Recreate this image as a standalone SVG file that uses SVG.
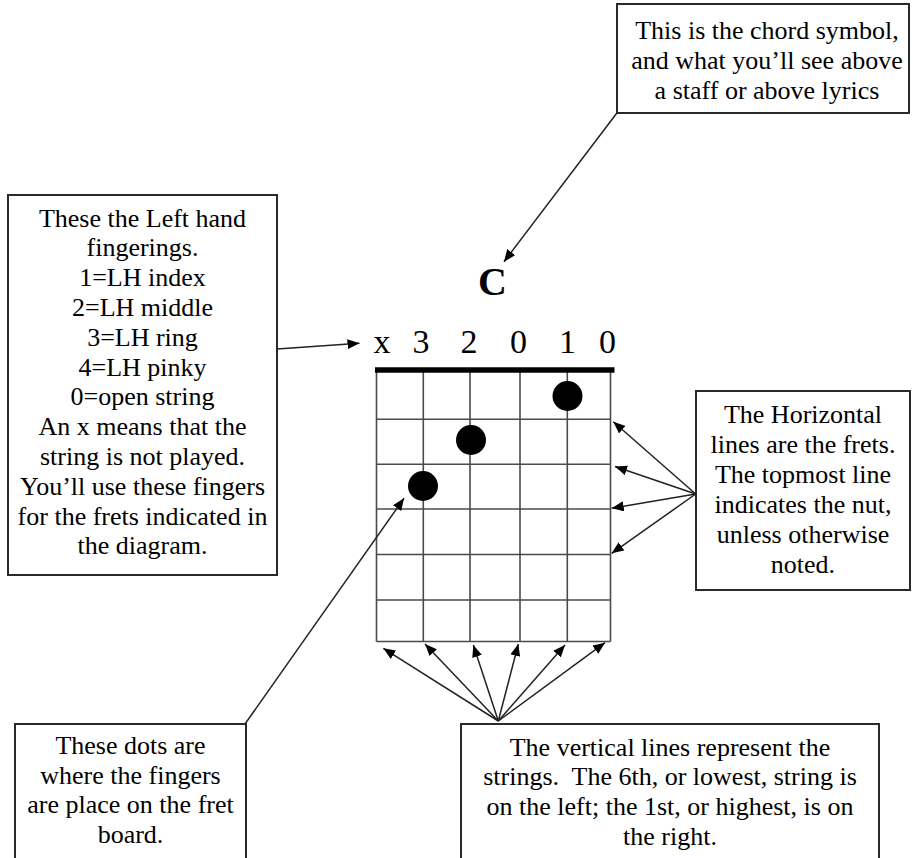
<svg xmlns="http://www.w3.org/2000/svg" width="913" height="858" viewBox="0 0 913 858">
<style>
.box{fill:#fff;stroke:#2a2a2a;stroke-width:2}
.t{font-family:"Liberation Serif","Times New Roman",serif;font-size:26px;fill:#000;text-anchor:middle}
.d{font-family:"Liberation Serif","Times New Roman",serif;font-size:34px;fill:#000;text-anchor:middle}
.g{stroke:#4a4a4a;stroke-width:1.6;fill:none}
.c{stroke:#222;stroke-width:1.5;fill:none;marker-end:url(#ah)}
</style>
<defs>
<marker id="ah" markerUnits="userSpaceOnUse" viewBox="0 0 12 10" refX="12" refY="5" markerWidth="12" markerHeight="10" orient="auto">
<path d="M0,0 L12,5 L0,10 z" fill="#000"/>
</marker>
</defs>
<rect width="913" height="858" fill="#fff"/>

<g id="chord-symbol-note">
<rect class="box" x="617" y="4" width="292" height="109"/>
<text class="t" x="767" y="39">This is the chord symbol,</text>
<text class="t" x="767" y="69">and what you’ll see above</text>
<text class="t" x="767" y="99">a staff or above lyrics</text>
</g>

<g id="fingering-note">
<rect class="box" x="8" y="195" width="269" height="380"/>
<text class="t" x="142.5" y="226.5">These the Left hand</text>
<text class="t" x="142.5" y="256.3">fingerings.</text>
<text class="t" x="142.5" y="286.1">1=LH index</text>
<text class="t" x="142.5" y="315.9">2=LH middle</text>
<text class="t" x="142.5" y="345.7">3=LH ring</text>
<text class="t" x="142.5" y="375.5">4=LH pinky</text>
<text class="t" x="142.5" y="405.3">0=open string</text>
<text class="t" x="142.5" y="435.1">An x means that the</text>
<text class="t" x="142.5" y="464.9">string is not played.</text>
<text class="t" x="142.5" y="494.7">You’ll use these fingers</text>
<text class="t" x="142.5" y="524.5">for the frets indicated in</text>
<text class="t" x="142.5" y="554.3">the diagram.</text>
</g>

<g id="chord-diagram">
<text x="492.5" y="295" font-family="Liberation Serif,'Times New Roman',serif" font-size="40" font-weight="bold" text-anchor="middle" fill="#000">C</text>
<text class="d" x="382" y="353">x</text>
<text class="d" x="421" y="353">3</text>
<text class="d" x="469" y="353">2</text>
<text class="d" x="518.5" y="353">0</text>
<text class="d" x="567.5" y="353">1</text>
<text class="d" x="607.5" y="353">0</text>
<g class="g">
<line x1="376.5" y1="370" x2="376.5" y2="641.5"/>
<line x1="423.3" y1="370" x2="423.3" y2="641.5"/>
<line x1="470" y1="370" x2="470" y2="641.5"/>
<line x1="520" y1="370" x2="520" y2="641.5"/>
<line x1="567.3" y1="370" x2="567.3" y2="641.5"/>
<line x1="610.5" y1="370" x2="610.5" y2="641.5"/>
<line x1="376.5" y1="419.3" x2="610.5" y2="419.3"/>
<line x1="376.5" y1="464.3" x2="610.5" y2="464.3"/>
<line x1="376.5" y1="509" x2="610.5" y2="509"/>
<line x1="376.5" y1="554.5" x2="610.5" y2="554.5"/>
<line x1="376.5" y1="600" x2="610.5" y2="600"/>
<line x1="376.5" y1="641.5" x2="610.5" y2="641.5"/>
</g>
<line x1="375" y1="370" x2="614.5" y2="370" stroke="#000" stroke-width="5.5"/>
<circle cx="567.5" cy="396" r="15" fill="#000"/>
<circle cx="471" cy="440" r="15" fill="#000"/>
<circle cx="423" cy="486" r="15" fill="#000"/>
</g>

<g id="frets-note">
<rect class="box" x="696" y="391" width="214" height="199"/>
<text class="t" x="803" y="422.5">The Horizontal</text>
<text class="t" x="803" y="452.5">lines are the frets.</text>
<text class="t" x="803" y="482.5">The topmost line</text>
<text class="t" x="803" y="512.5">indicates the nut,</text>
<text class="t" x="803" y="542.5">unless otherwise</text>
<text class="t" x="803" y="572.5">noted.</text>
</g>

<g id="dots-note">
<rect class="box" x="15" y="724" width="231" height="200"/>
<text class="t" x="130.5" y="754">These dots are</text>
<text class="t" x="130.5" y="783.7">where the fingers</text>
<text class="t" x="130.5" y="813.4">are place on the fret</text>
<text class="t" x="130.5" y="843.1">board.</text>
</g>

<g id="strings-note">
<rect class="box" x="461" y="724" width="418" height="200"/>
<text class="t" x="670" y="755.5">The vertical lines represent the</text>
<text class="t" x="670" y="785.2" xml:space="preserve">strings.  The 6th, or lowest, string is</text>
<text class="t" x="670" y="814.9">on the left; the 1st, or highest, is on</text>
<text class="t" x="670" y="844.6">the right.</text>
</g>

<g id="connectors">
<line class="c" x1="616.7" y1="113.3" x2="504" y2="261.7"/>
<line class="c" x1="277" y1="349" x2="359.5" y2="343.3"/>
<line class="c" x1="695.7" y1="494" x2="613.3" y2="421.7"/>
<line class="c" x1="695.7" y1="494" x2="615" y2="466.5"/>
<line class="c" x1="695.7" y1="494" x2="611.7" y2="508.3"/>
<line class="c" x1="695.7" y1="494" x2="611.7" y2="553.3"/>
<line class="c" x1="245" y1="724" x2="404" y2="498.3"/>
<line class="c" x1="498.3" y1="721" x2="383.3" y2="648.3"/>
<line class="c" x1="498.3" y1="721" x2="425" y2="644"/>
<line class="c" x1="498.3" y1="721" x2="473.3" y2="645"/>
<line class="c" x1="498.3" y1="721" x2="518.3" y2="644"/>
<line class="c" x1="498.3" y1="721" x2="565" y2="645"/>
<line class="c" x1="498.3" y1="721" x2="605" y2="642.7"/>
</g>
</svg>
